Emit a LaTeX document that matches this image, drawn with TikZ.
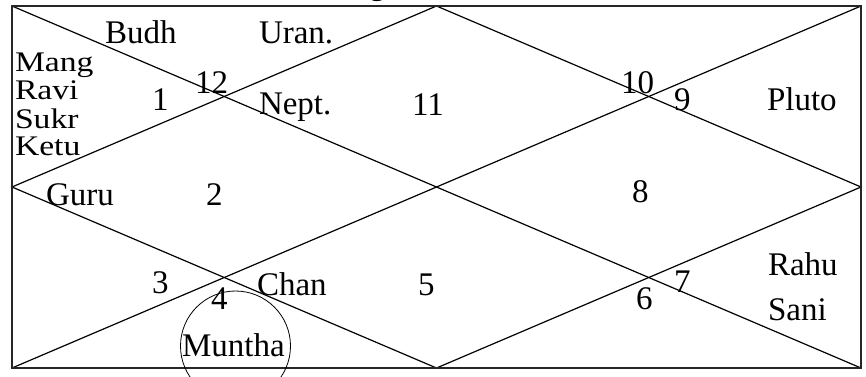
\documentclass[tikz,border=0pt]{standalone}
\usepackage{fontspec}
\setmainfont{Liberation Serif}
\begin{document}
\begin{tikzpicture}[x=1pt,y=-1pt,
  lbl/.style={anchor=base west,inner sep=0pt,outer sep=0pt,font=\fontsize{33}{38}\selectfont},
  sq/.style={anchor=base west,inner sep=0pt,outer sep=0pt,font=\fontsize{33}{38}\selectfont},
  frame/.style={draw=black!85,line width=1.8pt},
  grid/.style={draw=black,line width=1.2pt},
  ring/.style={draw=black,line width=0.8pt}]
\useasboundingbox (0,0) rectangle (866,376);
% corners and midpoints
\coordinate (TL) at (12,6);
\coordinate (TR) at (861,6);
\coordinate (BR) at (861,368);
\coordinate (BL) at (12,368);
\coordinate (T) at (436.5,6);
\coordinate (R) at (861,187);
\coordinate (B) at (436.5,368);
\coordinate (L) at (12,187);
% title (cut off at the top edge)
\node[lbl] (title) at (369,-6) {g};
% lines
\draw[grid] (TL) -- (BR);
\draw[grid] (BL) -- (TR);
\draw[grid] (L) -- (T) -- (R) -- (B) -- cycle;
\draw[frame] (TL) rectangle (BR);
% circle
\node[ring,circle,minimum size=110pt,inner sep=0pt] (ring) at (235.5,346) {};
% labels
\node[lbl] (budh) at (105,43) {Budh};
\node[lbl] (uran) at (259,43) {Uran.};
\node[sq] (mang) at (15,71) {\scalebox{1.02}[0.86]{Mang}};
\node[sq] (ravi) at (15,99) {\scalebox{1.02}[0.86]{Ravi}};
\node[sq] (sukr) at (15,128) {\scalebox{1.02}[0.86]{Sukr}};
\node[sq] (ketu) at (15,155) {\scalebox{1.02}[0.86]{Ketu}};
\node[lbl] (h1) at (152,110) {1};
\node[lbl] (h12) at (195,93) {12};
\node[lbl] (nept) at (259,114) {Nept.};
\node[lbl] (h11) at (412,115) {11};
\node[lbl] (h10) at (621,93) {10};
\node[lbl] (h9) at (674,110) {9};
\node[lbl] (pluto) at (767,110) {Pluto};
\node[lbl] (guru) at (46,205) {Guru};
\node[lbl] (h2) at (206,205) {2};
\node[lbl] (h8) at (632,202) {8};
\node[lbl] (h3) at (152,293) {3};
\node[lbl] (h4) at (211,309) {4};
\node[lbl] (chan) at (257,295) {Chan};
\node[lbl] (h5) at (418,295) {5};
\node[lbl] (h6) at (636,309) {6};
\node[lbl] (h7) at (674,292) {7};
\node[lbl] (rahu) at (768,275) {Rahu};
\node[lbl] (sani) at (768,320) {Sani};
\node[lbl] (muntha) at (182,356) {Muntha};
\end{tikzpicture}
\end{document}
